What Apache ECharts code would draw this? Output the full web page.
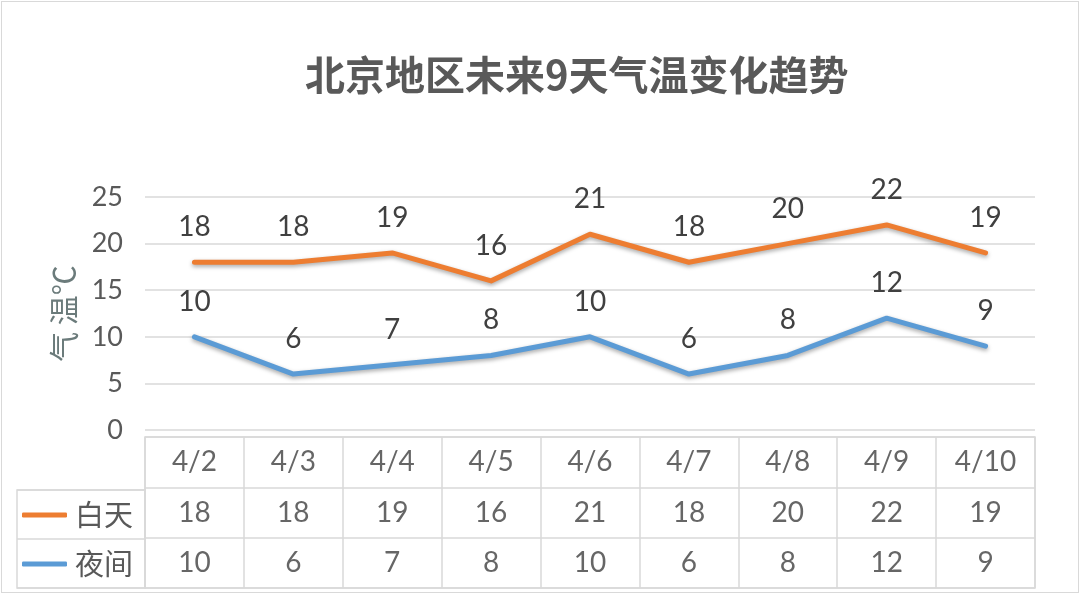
<!DOCTYPE html>
<html><head><meta charset="utf-8">
<script src="https://cdn.jsdelivr.net/npm/echarts@6/dist/echarts.min.js"></script>
<style>
html,body{margin:0;padding:0;background:#fff}
#wrap{position:relative;width:1080px;height:596px}
#c{width:1080px;height:596px}
#frame{position:absolute;left:1px;top:1px;right:1px;bottom:3px;border:1.5px solid #d9d9d9;pointer-events:none}
</style></head>
<body><div id="wrap"><div id="c"></div><div id="frame"></div></div>
<script>
const titleText = '北京地区未来9天气温变化趋势';
const yAxisName = '气 温℃';
const dates = ['4/2','4/3','4/4','4/5','4/6','4/7','4/8','4/9','4/10'];
const dayName = '白天';
const nightName = '夜间';
const dayTemps = [18,18,19,16,21,18,20,22,19];
const nightTemps = [10,6,7,8,10,6,8,12,9];
const yMin = 0, yMax = 25, yStep = 5;
const tableRows = ['date','day','night'];
const legendRows = [dayName, nightName];

const ORANGE = '#ED7D31', BLUE = '#5B9BD5', GRID = '#d9d9d9', TXT = '#595959', NUM = '#404040';
const numFont = 'Lato, "Noto Sans", sans-serif';
const cjkFont = '"Noto Sans CJK SC", sans-serif';

const tableData = [];
dates.forEach((d,i)=>{
  tableData.push([i,0,d]);
  tableData.push([i,1,dayTemps[i]]);
  tableData.push([i,2,nightTemps[i]]);
});

const lineShadow = {shadowColor:'rgba(0,0,0,0.35)', shadowBlur:4, shadowOffsetY:2};
const lineLabel = {show:true,position:'top',distance:21,fontFamily:numFont,fontSize:28,color:NUM};

const chart = echarts.init(document.getElementById('c'));
chart.setOption({
  backgroundColor:'#fff',
  animation:false,
  title:{text:titleText,left:300,top:50,textStyle:{fontFamily:cjkFont,fontWeight:'bold',fontSize:40,color:TXT}},
  legend:{
    data:[{name:dayName,itemStyle:{color:ORANGE,opacity:1}},{name:nightName,itemStyle:{color:BLUE,opacity:1}}],
    orient:'vertical',left:22,top:500,padding:0,itemWidth:45,itemHeight:5,itemGap:19,
    icon:'roundRect',
    textStyle:{fontFamily:cjkFont,fontSize:29,color:TXT,lineHeight:30,padding:[0,0,0,3]}
  },
  grid:[
    {left:145,right:45,top:197,bottom:166},
    {left:145,right:45,top:437,bottom:8,show:true,borderColor:GRID,borderWidth:1.5},
    {left:17,width:128,top:490,bottom:8,show:true,borderColor:GRID,borderWidth:1.5}
  ],
  xAxis:[
    {gridIndex:0,type:'category',data:dates,boundaryGap:true,axisLine:{show:false},axisTick:{show:false},axisLabel:{show:false}},
    {gridIndex:1,type:'category',data:dates,boundaryGap:true,axisLine:{show:false},axisTick:{show:false},axisLabel:{show:false},
      splitLine:{show:true,interval:0,lineStyle:{color:GRID,width:1.5}}},
    {gridIndex:2,type:'category',data:['x'],axisLine:{show:false},axisTick:{show:false},axisLabel:{show:false}}
  ],
  yAxis:[
    {gridIndex:0,type:'value',min:yMin,max:yMax,interval:yStep,
      name:'{n|' + yAxisName + '}',nameLocation:'middle',nameGap:66,nameRotate:90,
      nameTextStyle:{color:'#6b7b7b',rich:{n:{fontFamily:cjkFont,fontSize:30,color:'#6b7b7b'}}},
      axisLine:{show:false},axisTick:{show:false},
      axisLabel:{margin:22,fontFamily:numFont,fontSize:27,color:TXT},
      splitLine:{lineStyle:{color:GRID,width:1.5}}},
    {gridIndex:1,type:'category',data:tableRows,inverse:true,axisLine:{show:false},axisTick:{show:false},axisLabel:{show:false},
      splitLine:{show:true,interval:0,lineStyle:{color:GRID,width:1.5}}},
    {gridIndex:2,type:'category',data:legendRows,inverse:true,axisLine:{show:false},axisTick:{show:false},axisLabel:{show:false},
      splitLine:{show:true,interval:0,lineStyle:{color:GRID,width:1.5}}}
  ],
  series:[
    {name:dayName,type:'line',xAxisIndex:0,yAxisIndex:0,data:dayTemps,showSymbol:true,symbol:'circle',symbolSize:0,
      itemStyle:{color:ORANGE},color:ORANGE,
      lineStyle:Object.assign({width:5,color:ORANGE,cap:'round',join:'round'},lineShadow),
      label:lineLabel},
    {name:nightName,type:'line',xAxisIndex:0,yAxisIndex:0,data:nightTemps,showSymbol:true,symbol:'circle',symbolSize:0,
      itemStyle:{color:BLUE},color:BLUE,
      lineStyle:Object.assign({width:5,color:BLUE,cap:'round',join:'round'},lineShadow),
      label:lineLabel},
    {type:'scatter',xAxisIndex:1,yAxisIndex:1,data:tableData,symbolSize:0,silent:true,
      encode:{x:0,y:1},
      label:{show:true,position:'inside',formatter:p=>String(p.value[2]),fontFamily:numFont,fontSize:28,color:NUM}}
  ]
});
</script></body></html>
